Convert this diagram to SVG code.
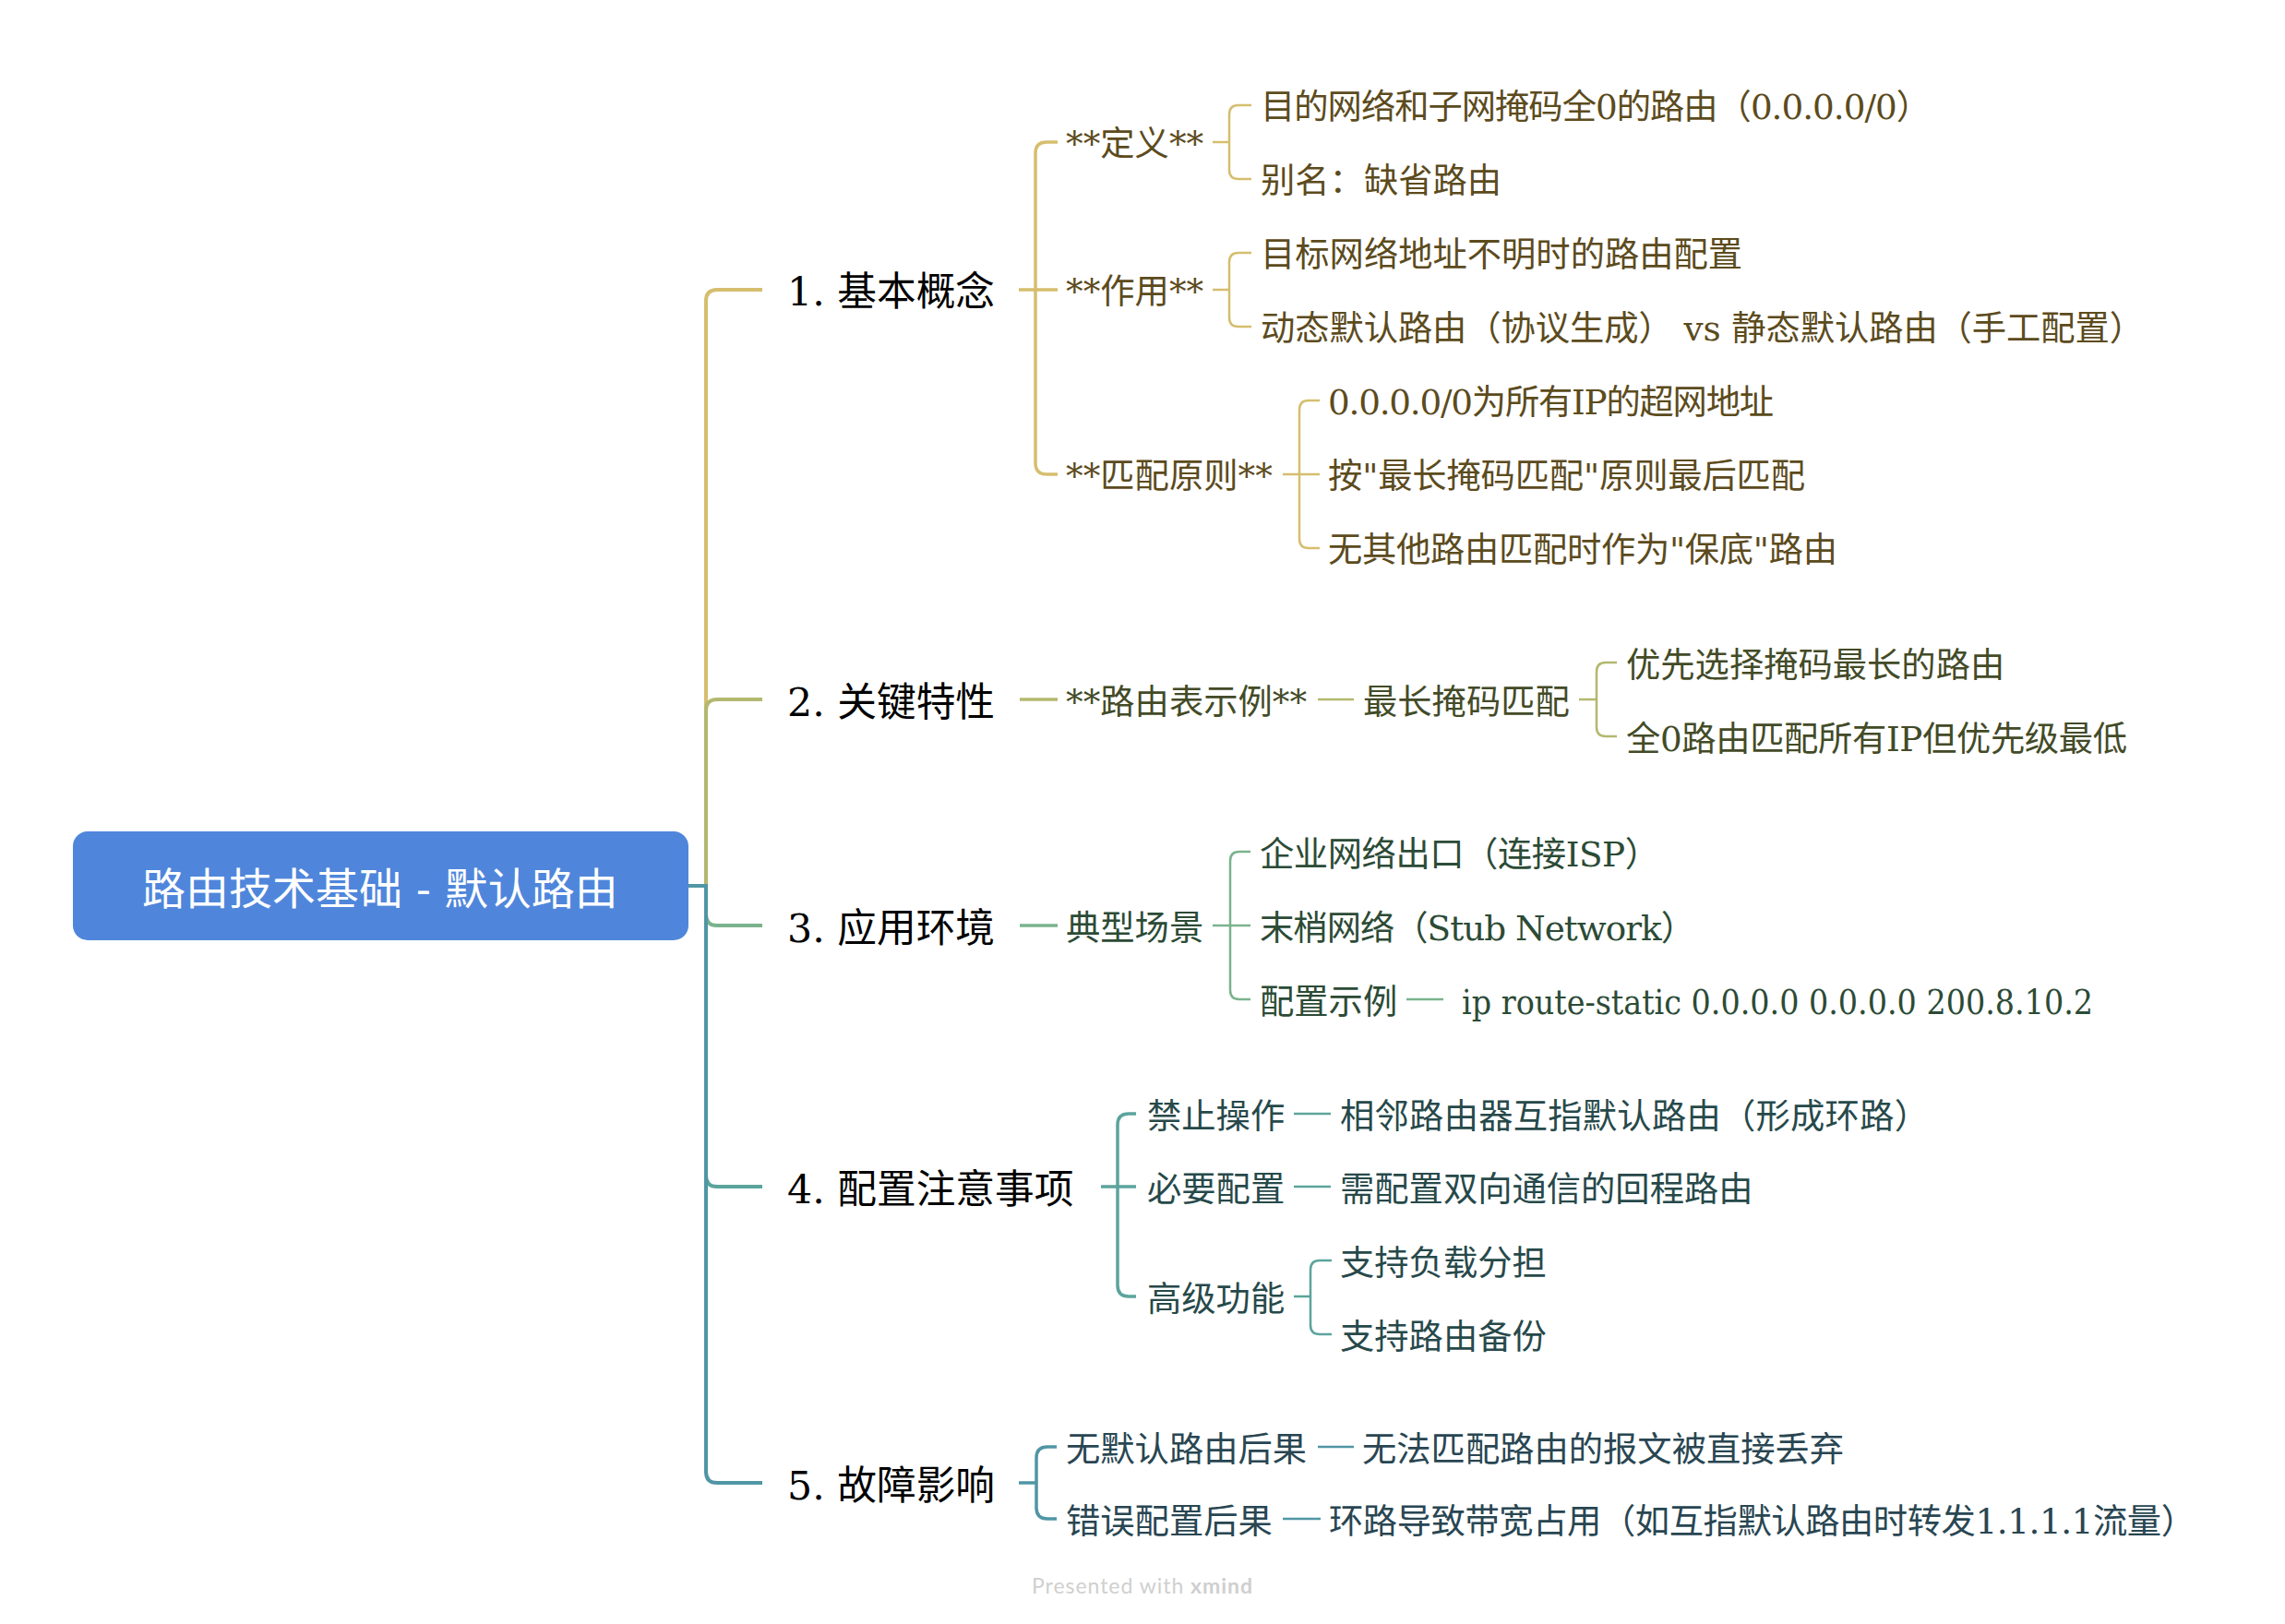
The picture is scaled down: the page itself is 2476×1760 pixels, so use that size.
<svg xmlns="http://www.w3.org/2000/svg" width="2476" height="1760" viewBox="0 0 2476 1760">
<style>
text{font-family:"DejaVu Serif","Noto Sans CJK SC",serif;dominant-baseline:central}
.root{font-size:47px;fill:#ffffff;text-anchor:middle}
.l1{font-size:42.7px;fill:#000000}
.s{font-size:37.3px}
.c1{fill:#5C4B1D}.c2{fill:#434B27}.c3{fill:#2C4B36}.c4{fill:#27494A}.c5{fill:#294652}
path{fill:none;stroke-linecap:butt}
.m{stroke-width:4}
.k{stroke-width:3.5}
.n{stroke-width:2.5}
.b1{stroke:#D5BE6E}.b2{stroke:#B3B86F}.b3{stroke:#7AB38D}.b4{stroke:#5BA49C}.b5{stroke:#5096A5}
.wm{font-family:"Lato","Open Sans",sans-serif;font-size:23px;fill:#cfcfcf;dominant-baseline:auto}
</style>
<rect width="2476" height="1760" fill="#ffffff"/>
<g id="connectors">
<path class="m b1" d="M746,960 H765 V326 Q765,314 777,314 H826"/>
<path class="m b2" d="M746,960 H765 V770 Q765,758 777,758 H826"/>
<path class="m b3" d="M746,960 H765 V991 Q765,1003 777,1003 H826"/>
<path class="m b4" d="M746,960 H765 V1274 Q765,1286 777,1286 H826"/>
<path class="m b5" d="M746,960 H765 V1595 Q765,1607 777,1607 H826"/>
<path class="k b1" d="M1104,314 H1146 M1146,154 H1134 Q1122,154 1122,166 V502 Q1122,514 1134,514 H1146"/>
<path class="n b1" d="M1314,154 H1332 M1356,114 H1342 Q1332,114 1332,124 V184 Q1332,194 1342,194 H1356"/>
<path class="n b1" d="M1314,314 H1332 M1356,274 H1342 Q1332,274 1332,284 V344 Q1332,354 1342,354 H1356"/>
<path class="n b1" d="M1390,514 H1430 M1430,434 H1418 Q1408,434 1408,444 V584 Q1408,594 1418,594 H1430"/>
<path class="k b2" d="M1105,758 H1146"/>
<path class="n b2" d="M1428,758 H1467"/>
<path class="n b2" d="M1711,758 H1730 M1752,718 H1740 Q1730,718 1730,728 V788 Q1730,798 1740,798 H1752"/>
<path class="k b3" d="M1105,1003 H1146"/>
<path class="n b3" d="M1314,1003 H1355 M1355,923 H1343 Q1333,923 1333,933 V1073 Q1333,1083 1343,1083 H1355"/>
<path class="n b3" d="M1524,1083 H1564"/>
<path class="k b4" d="M1193,1286 H1231 M1231,1207 H1223 Q1211,1207 1211,1219 V1393 Q1211,1405 1223,1405 H1231"/>
<path class="n b4" d="M1402,1207 H1442 M1402,1286 H1442"/>
<path class="n b4" d="M1402,1405 H1420 M1443,1366 H1430 Q1420,1366 1420,1376 V1436 Q1420,1446 1430,1446 H1443"/>
<path class="k b5" d="M1104,1607 H1123 M1145,1568 H1135 Q1123,1568 1123,1580 V1634 Q1123,1646 1135,1646 H1145"/>
<path class="n b5" d="M1428,1568 H1467 M1390,1646 H1431"/>
</g>
<g id="root">
<rect x="79" y="901" width="667" height="118" rx="16" fill="#4F86DB"/>
<text class="root" x="412" y="963">路由技术基础 - 默认路由</text>
</g>
<g id="b1" transform="translate(0,2)">
<text class="l1" x="853" y="314">1. 基本概念</text>
<g id="b1-def"><text class="s c1" x="1155" y="154">**定义**</text>
<text class="s c1" x="1366" y="114" textLength="726">目的网络和子网掩码全0的路由（0.0.0.0/0）</text>
<text class="s c1" x="1366" y="194">别名：缺省路由</text></g>
<g id="b1-use"><text class="s c1" x="1155" y="314">**作用**</text>
<text class="s c1" x="1366" y="274">目标网络地址不明时的路由配置</text>
<text class="s c1" x="1366" y="354" textLength="957">动态默认路由（协议生成） vs 静态默认路由（手工配置）</text></g>
<g id="b1-match"><text class="s c1" x="1155" y="514">**匹配原则**</text>
<text class="s c1" x="1439" y="434" textLength="483">0.0.0.0/0为所有IP的超网地址</text>
<text class="s c1" x="1439" y="514" textLength="517">按"最长掩码匹配"原则最后匹配</text>
<text class="s c1" x="1439" y="594" textLength="552">无其他路由匹配时作为"保底"路由</text></g>
</g>
<g id="b2" transform="translate(0,3)">
<text class="l1" x="853" y="758">2. 关键特性</text>
<text class="s c2" x="1155" y="758">**路由表示例**</text>
<text class="s c2" x="1477" y="758">最长掩码匹配</text>
<text class="s c2" x="1762" y="718">优先选择掩码最长的路由</text>
<text class="s c2" x="1762" y="798" textLength="543">全0路由匹配所有IP但优先级最低</text>
</g>
<g id="b3" transform="translate(0,3)">
<text class="l1" x="853" y="1003">3. 应用环境</text>
<text class="s c3" x="1155" y="1003">典型场景</text>
<text class="s c3" x="1365" y="923" textLength="433">企业网络出口（连接ISP）</text>
<text class="s c3" x="1365" y="1003" textLength="472">末梢网络（Stub Network）</text>
<text class="s c3" x="1365" y="1083">配置示例</text>
<text class="s c3" x="1584" y="1083" textLength="684" lengthAdjust="spacingAndGlyphs">ip route-static 0.0.0.0 0.0.0.0 200.8.10.2</text>
</g>
<g id="b4" transform="translate(0,3)">
<text class="l1" x="853" y="1286">4. 配置注意事项</text>
<text class="s c4" x="1243" y="1207">禁止操作</text>
<text class="s c4" x="1452" y="1207" textLength="638">相邻路由器互指默认路由（形成环路）</text>
<text class="s c4" x="1243" y="1286">必要配置</text>
<text class="s c4" x="1452" y="1286">需配置双向通信的回程路由</text>
<text class="s c4" x="1243" y="1405">高级功能</text>
<text class="s c4" x="1452" y="1366">支持负载分担</text>
<text class="s c4" x="1452" y="1446">支持路由备份</text>
</g>
<g id="b5" transform="translate(0,3)">
<text class="l1" x="853" y="1607">5. 故障影响</text>
<text class="s c5" x="1155" y="1568">无默认路由后果</text>
<text class="s c5" x="1476" y="1568">无法匹配路由的报文被直接丢弃</text>
<text class="s c5" x="1155" y="1646">错误配置后果</text>
<text class="s c5" x="1440" y="1646" textLength="939">环路导致带宽占用（如互指默认路由时转发1.1.1.1流量）</text>
</g>
<g id="watermark">
<text class="wm" x="1118" y="1727" textLength="239">Presented with <tspan font-weight="bold">xmind</tspan></text>
</g>
</svg>
